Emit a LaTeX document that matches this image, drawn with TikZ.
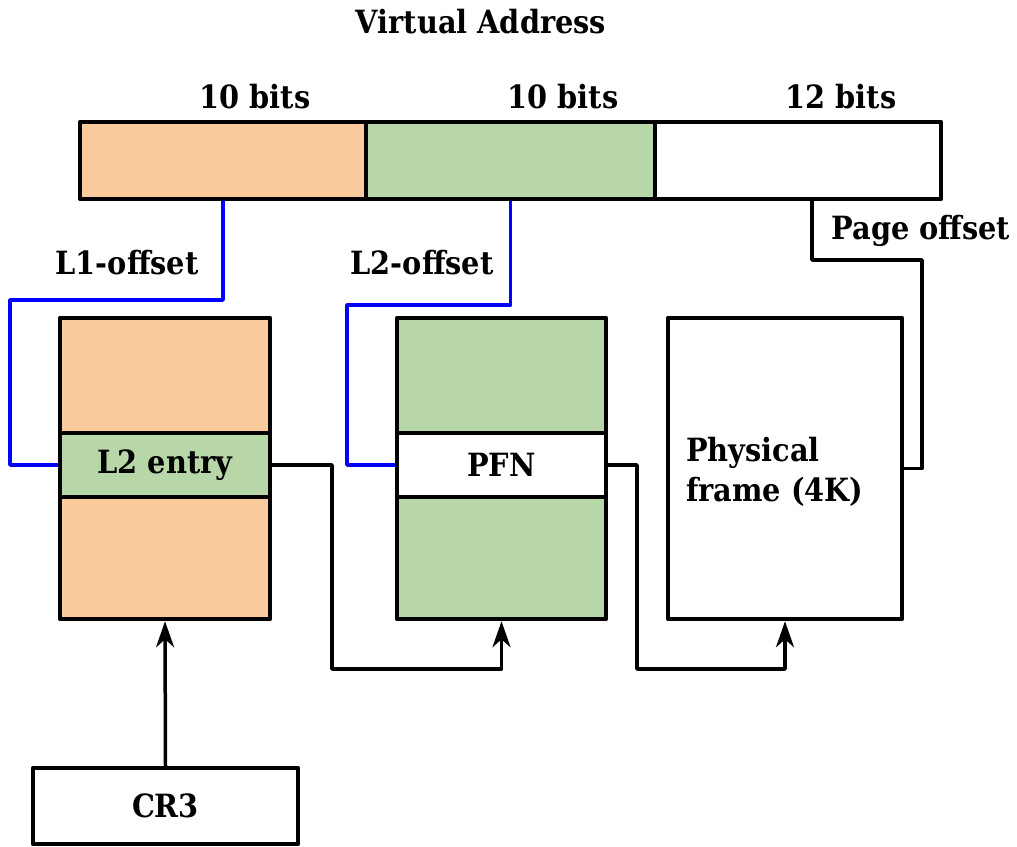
\documentclass[tikz,border=0pt]{standalone}
\usepackage{fontspec}
\setmainfont{DejaVu Serif Condensed}
\usetikzlibrary{arrows.meta}
\definecolor{peach}{HTML}{F8CA9C}
\definecolor{sage}{HTML}{B7D7A8}
\tikzset{
  box/.style={draw=black, line width=4.5pt, rectangle, inner sep=0pt, line join=round},
  txt/.style={font=\fontsize{32}{40}\selectfont\bfseries, inner sep=0pt},
  wire/.style={draw=black, line width=3.5pt, line join=round},
  bwire/.style={draw=blue, line width=3.5pt, line join=round},
  arr/.style={wire, -{Stealth[length=26pt,width=18pt,inset=8pt]}},
}
\begin{document}
\begin{tikzpicture}[x=1pt,y=-1pt]
\useasboundingbox (0,0) rectangle (1017,846);
% virtual address bar
\node[box, fill=peach, minimum width=286pt, minimum height=77pt] (seg1) at (223,160.5) {};
\node[box, fill=sage, minimum width=289pt, minimum height=77pt] (seg2) at (510.5,160.5) {};
\node[box, fill=white, minimum width=286pt, minimum height=77pt] (seg3) at (798,160.5) {};
\node[txt] (title) at (481,22) {Virtual Address};
\node[txt] (b1lab) at (255,97) {10 bits};
\node[txt] (b2lab) at (563,97) {10 bits};
\node[txt] (b3lab) at (841,97) {12 bits};
% tables
\node[box, fill=peach, minimum width=210pt, minimum height=301pt] (t1) at (165,468.5) {};
\node[box, fill=sage, minimum width=210pt, minimum height=64pt, txt] (l2e) at (165,465) {L2 entry};
\node[box, fill=sage, minimum width=209pt, minimum height=301pt] (t2) at (501.5,468.5) {};
\node[box, fill=white, minimum width=209pt, minimum height=64pt, txt] (pfn) at (501.5,465) {PFN};
\node[box, fill=white, minimum width=234pt, minimum height=301pt] (pf) at (785,468.5) {};
\node[txt, align=left, anchor=west] (pftext) at (686,472) {Physical\\frame (4K)};
\node[box, fill=white, minimum width=265pt, minimum height=76pt, txt] (cr3) at (165.5,806) {CR3};
% labels
\node[txt] (l1off) at (127,263) {L1-offset};
\node[txt] (l2off) at (422,263) {L2-offset};
\node[txt] (pgoff) at (921,231) {Page offset};
% coordinates
\coordinate (k1) at (10,300);
\coordinate (k2) at (347,305);
\coordinate (p1) at (812,260);
\coordinate (p2) at (922,260);
\coordinate (c1) at (332,669);
\coordinate (c2) at (637,669);
% connectors
\draw[bwire] (seg1.south) |- (k1) |- (l2e.west);
\draw[bwire] (seg2.south) |- (k2) |- (pfn.west);
\draw[wire] (seg3.south -| p1) -- (p1) -- (p2) |- (pf.east);
\draw[arr] (l2e.east) -| (c1) -| (t2.south);
\draw[arr] (pfn.east) -| (c2) -| (pf.south);
\draw[arr] (cr3.north) -- (t1.south);
\end{tikzpicture}
\end{document}
